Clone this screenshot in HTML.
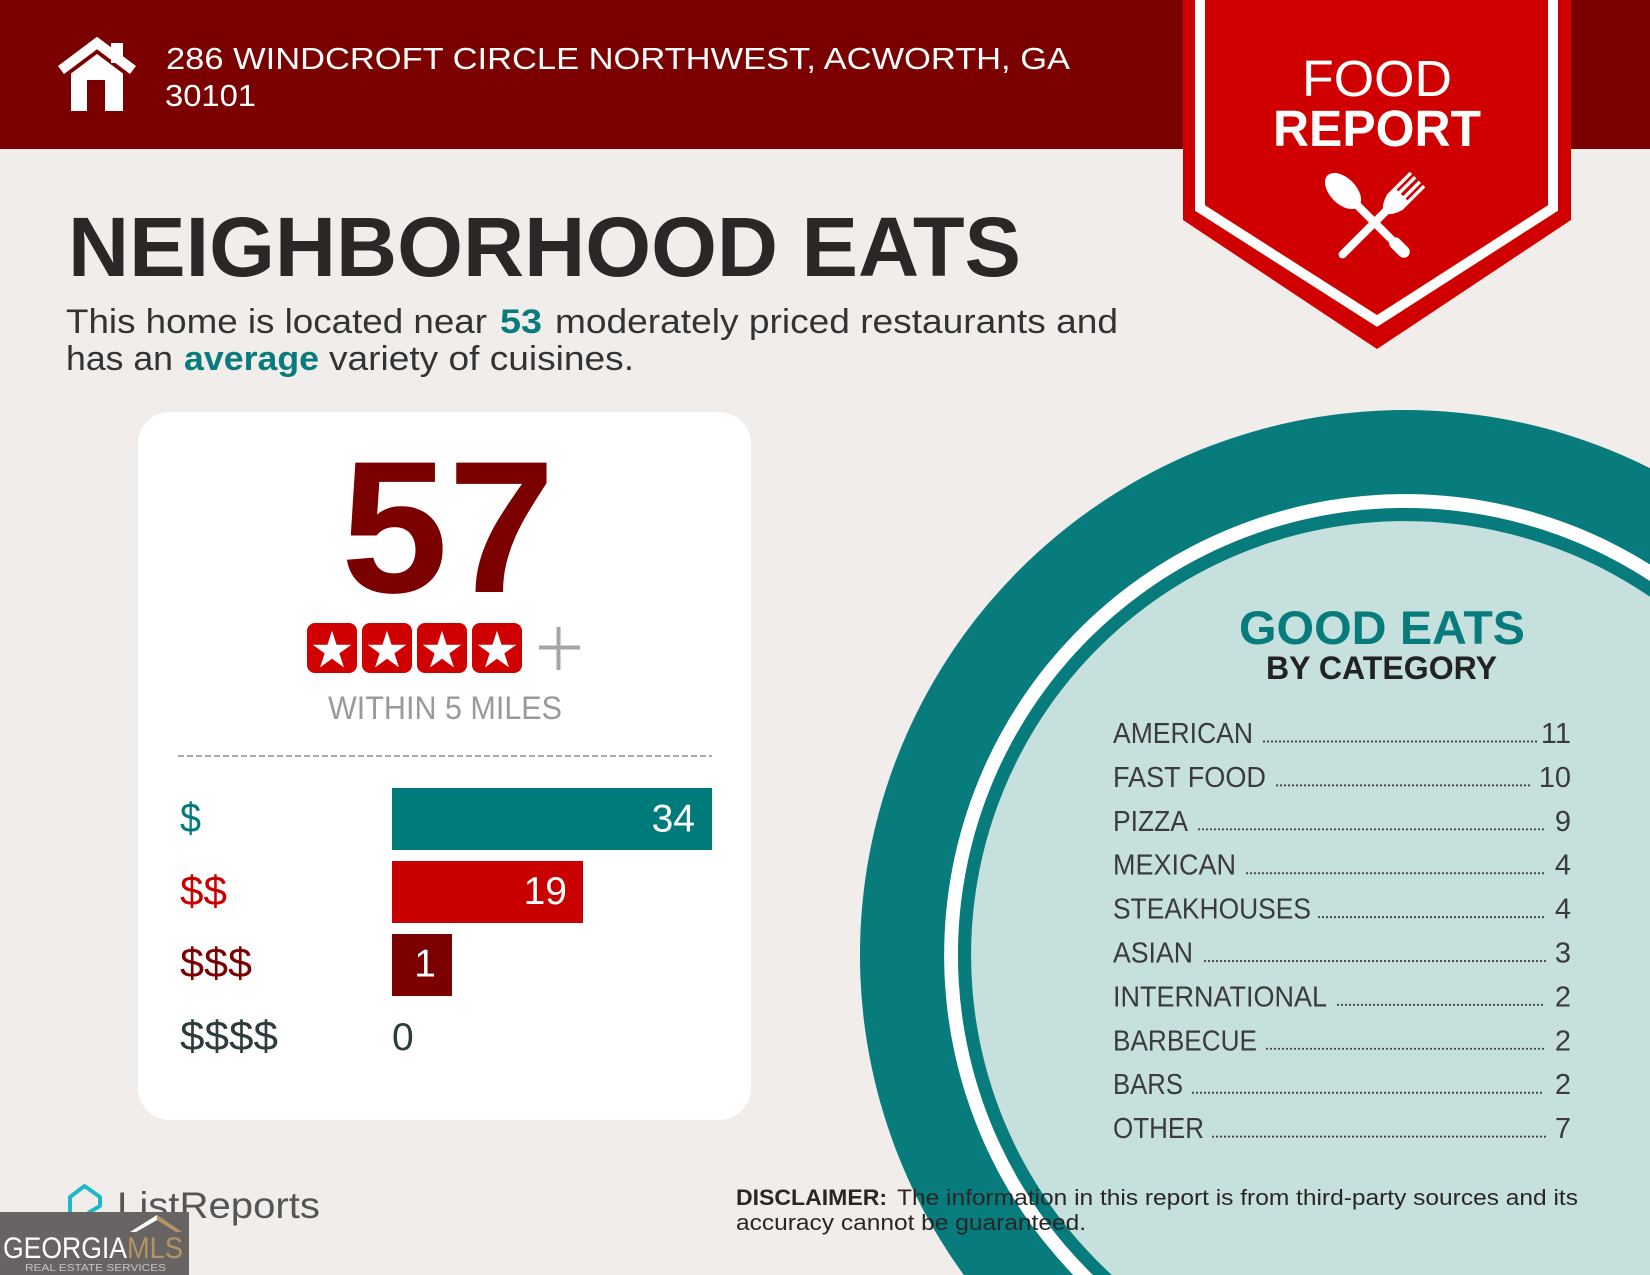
<!DOCTYPE html>
<html><head><meta charset="utf-8"><style>
html,body{margin:0;padding:0;background:#f1edea;width:1650px;height:1275px;overflow:hidden;}
svg{display:block;position:absolute;left:0;top:0;}
text{font-family:"Liberation Sans",sans-serif;}
</style></head><body>
<svg width="1650" height="1275" viewBox="0 0 1650 1275" xmlns="http://www.w3.org/2000/svg">
<rect x="0" y="0" width="1650" height="1275" fill="#f1edea"/>
<!-- header -->
<rect x="0" y="0" width="1650" height="149" fill="#7b0000"/>
<!-- house icon -->
<polyline points="61,70 97,43 133,70" fill="none" stroke="#fff" stroke-width="10"/>
<rect x="111" y="43" width="12" height="20" fill="#fff"/>
<polygon points="71,73.5 97,54 123,73.5 123,111 71,111" fill="#fff"/>
<rect x="87" y="80" width="18" height="31" fill="#7b0000"/>
<text x="166" y="69" font-size="31" fill="#fff" textLength="904" lengthAdjust="spacingAndGlyphs">286 WINDCROFT CIRCLE NORTHWEST, ACWORTH, GA</text>
<text x="165" y="106" font-size="31" fill="#fff" textLength="91" lengthAdjust="spacingAndGlyphs">30101</text>
<!-- ribbon -->
<polygon points="1183,0 1571,0 1571,220 1377,349 1183,220" fill="#d10000"/>
<polyline points="1200,0 1200,208 1377,321 1553,208 1553,0" fill="none" stroke="#fff" stroke-width="10"/>
<text x="1302" y="96" font-size="51" fill="#fff" textLength="150" lengthAdjust="spacingAndGlyphs">FOOD</text>
<text x="1273" y="146" font-size="51" font-weight="bold" fill="#fff" textLength="208" lengthAdjust="spacingAndGlyphs">REPORT</text>
<!-- spoon -->
<g transform="translate(1343,191) rotate(-45)" fill="#fff">
<ellipse cx="0" cy="0" rx="13" ry="22"/>
<line x1="0" y1="18" x2="0" y2="84" stroke="#fff" stroke-width="8" stroke-linecap="round"/>
<line x1="0" y1="74" x2="0" y2="86" stroke="#fff" stroke-width="12" stroke-linecap="round"/>
</g>
<!-- fork -->
<g transform="translate(1385,212) rotate(45)" fill="#fff">
<line x1="0" y1="0" x2="0" y2="60" stroke="#fff" stroke-width="8" stroke-linecap="round"/>
<path d="M-11,-24 L11,-24 L11,-14 Q8,-4 3,0 L-3,0 Q-8,-4 -11,-14 Z"/>
<rect x="-11" y="-46" width="3.4" height="24"/>
<rect x="-5" y="-46" width="3.4" height="24"/>
<rect x="1.6" y="-46" width="3.4" height="24"/>
<rect x="7.6" y="-46" width="3.4" height="24"/>
</g>
<!-- title -->
<text x="68" y="276" font-size="84" font-weight="bold" fill="#2b2727" textLength="953" lengthAdjust="spacingAndGlyphs">NEIGHBORHOOD EATS</text>
<text x="66" y="333" font-size="34" fill="#333" textLength="421" lengthAdjust="spacingAndGlyphs">This home is located near</text>
<text x="500" y="333" font-size="34" font-weight="bold" fill="#087b7c" textLength="42" lengthAdjust="spacingAndGlyphs">53</text>
<text x="555" y="333" font-size="34" fill="#333" textLength="563" lengthAdjust="spacingAndGlyphs">moderately priced restaurants and</text>
<text x="66" y="370" font-size="34" fill="#333" textLength="107" lengthAdjust="spacingAndGlyphs">has an</text>
<text x="184" y="370" font-size="34" font-weight="bold" fill="#087b7c" textLength="135" lengthAdjust="spacingAndGlyphs">average</text>
<text x="329" y="370" font-size="34" fill="#333" textLength="305" lengthAdjust="spacingAndGlyphs">variety of cuisines.</text>
<!-- circle rings (clipped to frame) -->
<path d="M1650,468.2 A545,545 0 0 0 963.8,1275 L1650,1275 Z" fill="#087b7c"/>
<path d="M1650,564.5 A461,461 0 0 0 1073.2,1275 L1650,1275 Z" fill="#fff"/>
<path d="M1650,581.1 A447,447 0 0 0 1092.9,1275 L1650,1275 Z" fill="#087b7c"/>
<path d="M1650,596.8 A434,434 0 0 0 1111.8,1275 L1650,1275 Z" fill="#c6e0de"/>
<text x="1239" y="644" font-size="47" font-weight="bold" fill="#087b7c" textLength="286" lengthAdjust="spacingAndGlyphs">GOOD EATS</text>
<text x="1266" y="679" font-size="32" font-weight="bold" fill="#222" textLength="231" lengthAdjust="spacingAndGlyphs">BY CATEGORY</text>
<g font-size="29" fill="#3b3b3b">
<text x="1113" y="743" textLength="140" lengthAdjust="spacingAndGlyphs">AMERICAN</text>
<text x="1113" y="786.9" textLength="153" lengthAdjust="spacingAndGlyphs">FAST FOOD</text>
<text x="1113" y="830.8" textLength="75" lengthAdjust="spacingAndGlyphs">PIZZA</text>
<text x="1113" y="874.7" textLength="123" lengthAdjust="spacingAndGlyphs">MEXICAN</text>
<text x="1113" y="918.6" textLength="198" lengthAdjust="spacingAndGlyphs">STEAKHOUSES</text>
<text x="1113" y="962.5" textLength="80" lengthAdjust="spacingAndGlyphs">ASIAN</text>
<text x="1113" y="1006.4" textLength="214" lengthAdjust="spacingAndGlyphs">INTERNATIONAL</text>
<text x="1113" y="1050.3" textLength="144" lengthAdjust="spacingAndGlyphs">BARBECUE</text>
<text x="1113" y="1094.2" textLength="70" lengthAdjust="spacingAndGlyphs">BARS</text>
<text x="1113" y="1138.1" textLength="91" lengthAdjust="spacingAndGlyphs">OTHER</text>
</g>
<g font-size="29" fill="#3b3b3b" text-anchor="end">
<text x="1571" y="743">11</text>
<text x="1571" y="786.9">10</text>
<text x="1571" y="830.8">9</text>
<text x="1571" y="874.7">4</text>
<text x="1571" y="918.6">4</text>
<text x="1571" y="962.5">3</text>
<text x="1571" y="1006.4">2</text>
<text x="1571" y="1050.3">2</text>
<text x="1571" y="1094.2">2</text>
<text x="1571" y="1138.1">7</text>
</g>
<g stroke="#444" stroke-width="2.2" stroke-linecap="round" stroke-dasharray="0 4">
<line x1="1264" y1="741.5" x2="1538" y2="741.5"/>
<line x1="1277" y1="785.4" x2="1530" y2="785.4"/>
<line x1="1199" y1="829.3" x2="1546" y2="829.3"/>
<line x1="1247" y1="873.2" x2="1546" y2="873.2"/>
<line x1="1319" y1="917.1" x2="1546" y2="917.1"/>
<line x1="1205" y1="961" x2="1546" y2="961"/>
<line x1="1338" y1="1004.9" x2="1544" y2="1004.9"/>
<line x1="1267" y1="1048.8" x2="1544" y2="1048.8"/>
<line x1="1193" y1="1092.7" x2="1544" y2="1092.7"/>
<line x1="1213" y1="1136.6" x2="1546" y2="1136.6"/>
</g>
<!-- card -->
<rect x="138" y="412" width="613" height="708" rx="32" ry="32" fill="#fff"/>
<text x="341" y="592" font-size="188" font-weight="bold" fill="#7b0000" textLength="214" lengthAdjust="spacingAndGlyphs">57</text>
<g fill="#d10000">
<rect x="307" y="623" width="50" height="50" rx="8"/>
<rect x="362" y="623" width="50" height="50" rx="8"/>
<rect x="417" y="623" width="50" height="50" rx="8"/>
<rect x="472" y="623" width="50" height="50" rx="8"/>
</g>
<defs><polygon id="st" points="0,-20.3 4.56,-6.27 19.3,-6.27 7.38,2.39 11.93,16.42 0,7.75 -11.93,16.42 -7.38,2.39 -19.3,-6.27 -4.56,-6.27"/></defs>
<g fill="#fff">
<use href="#st" x="332" y="651"/>
<use href="#st" x="387" y="651"/>
<use href="#st" x="442" y="651"/>
<use href="#st" x="497" y="651"/>
</g>
<line x1="539" y1="647.5" x2="580" y2="647.5" stroke="#a5a5a5" stroke-width="4"/>
<line x1="558.5" y1="627" x2="558.5" y2="670" stroke="#a5a5a5" stroke-width="4"/>
<text x="328" y="719" font-size="32" fill="#9a9a9a" textLength="234" lengthAdjust="spacingAndGlyphs">WITHIN 5 MILES</text>
<line x1="178" y1="756" x2="712" y2="756" stroke="#aaa" stroke-width="2" stroke-dasharray="6 3"/>
<rect x="392" y="788" width="320" height="62" fill="#007b7b"/>
<rect x="392" y="861" width="191" height="62" fill="#c80000"/>
<rect x="392" y="934" width="60" height="62" fill="#7b0000"/>
<g font-size="39" fill="#fff">
<text x="695" y="831.5" text-anchor="end">34</text>
<text x="567" y="904" text-anchor="end">19</text>
<text x="436" y="976.5" text-anchor="end">1</text>
</g>
<text x="392" y="1050" font-size="39" fill="#2d3c3c">0</text>
<text x="180" y="832" font-size="42" fill="#007b7b" textLength="21" lengthAdjust="spacingAndGlyphs">$</text>
<text x="180" y="905" font-size="42" fill="#c80000" textLength="47" lengthAdjust="spacingAndGlyphs">$$</text>
<text x="180" y="977" font-size="42" fill="#7b0000" textLength="72" lengthAdjust="spacingAndGlyphs">$$$</text>
<text x="180" y="1050" font-size="42" fill="#2d3c3c" textLength="98" lengthAdjust="spacingAndGlyphs">$$$$</text>
<!-- disclaimer -->
<text x="736" y="1205" font-size="22" font-weight="bold" fill="#2a2626" textLength="151" lengthAdjust="spacingAndGlyphs">DISCLAIMER:</text>
<text x="897" y="1205" font-size="22" fill="#2a2626" textLength="681" lengthAdjust="spacingAndGlyphs">The information in this report is from third-party sources and its</text>
<text x="736" y="1230" font-size="22" fill="#2a2626" textLength="350" lengthAdjust="spacingAndGlyphs">accuracy cannot be guaranteed.</text>
<!-- ListReports -->
<polyline points="70,1214 70,1197 84.5,1186 100,1197 100,1206 88,1213" fill="none" stroke="#1fb8c8" stroke-width="4" stroke-linejoin="round"/>
<text x="117" y="1218" font-size="37" fill="#555" textLength="203" lengthAdjust="spacingAndGlyphs">ListReports</text>
<!-- Georgia MLS -->
<rect x="0" y="1212" width="189" height="63" fill="#686463"/>
<polygon points="130,1232 157,1215 182,1232 176,1232 157,1220 136,1232" fill="#b39463"/>
<polygon points="130,1232 157,1215 157,1220 136,1232" fill="#fff"/>
<text x="3" y="1258" font-size="30" fill="#fff" textLength="124" lengthAdjust="spacingAndGlyphs">GEORGIA</text>
<text x="127" y="1258" font-size="30" fill="#b39463" textLength="56" lengthAdjust="spacingAndGlyphs">MLS</text>
<text x="25" y="1271" font-size="10" fill="#c8c4c0" textLength="141" lengthAdjust="spacingAndGlyphs">REAL ESTATE SERVICES</text>
</svg>
</body></html>
